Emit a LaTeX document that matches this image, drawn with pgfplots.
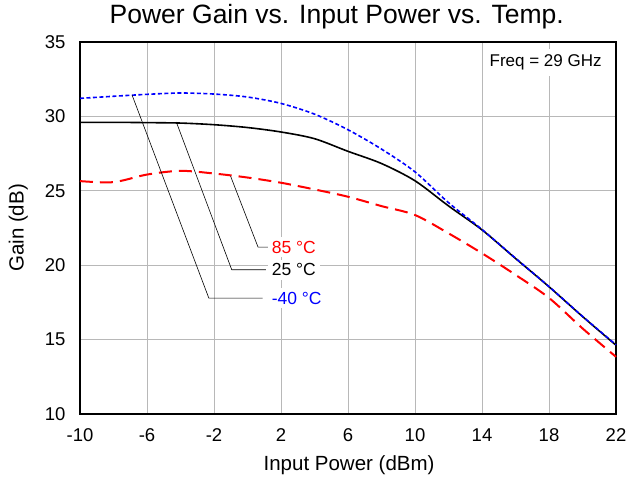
\documentclass[border=0pt]{standalone}
\usepackage{fontspec}
\setmainfont{Liberation Sans}
\usepackage{pgfplots}
\pgfplotsset{compat=1.18}
\begin{document}
\begin{tikzpicture}
\begin{axis}[
 scale only axis, width=536bp, height=372bp,
 xmin=-10, xmax=22, ymin=10, ymax=35,
 xtick={-10,-6,...,22}, ytick={10,15,...,35},
 xticklabels={-10,-6,-2,2,6,10,14,18,22},
 yticklabels={10,15,20,25,30,35},
 major tick length=0pt,
 grid=major, grid style={line width=0.8bp, color=black!28},
 axis line style={line width=1.2bp, black},
 tick label style={font=\fontsize{18.5bp}{20bp}\selectfont},
 xticklabel style={yshift=-11bp},
 yticklabel style={xshift=-11bp},
 title={Power Gain vs. Input Power vs. Temp.},
 title style={font=\fontsize{26.5bp}{28bp}\selectfont, at={(rel axis cs:0.479,1)}, anchor=base, yshift=12bp},
 xlabel={Input Power (dBm)},
 xlabel style={font=\fontsize{20.5bp}{22bp}\selectfont, at={(axis description cs:0.502,-0.151)}, anchor=base},
 ylabel={Gain (dB)},
 ylabel style={font=\fontsize{20.5bp}{22bp}\selectfont, at={(axis description cs:-0.105,0.5)}, anchor=base},
 clip=false,
]
% 25 C
\addplot[black, line width=1.6bp, smooth] coordinates {
 (-10,29.6) (-8,29.6) (-6,29.58) (-4,29.55) (-2,29.44) (0,29.25) (2,28.95)
 (4,28.5) (6,27.65) (8,26.83) (10,25.67) (12,23.98) (14,22.37) (16,20.45)
 (18,18.55) (20,16.55) (22,14.62)};
% 85 C
\addplot[red, line width=2bp, dash pattern=on 13bp off 7bp, smooth] coordinates {
 (-10,25.65) (-8,25.58) (-6,26.09) (-4,26.34) (-2,26.16) (0,25.89) (2,25.54)
 (4,25.09) (6,24.6) (8,23.97) (10,23.37) (12,22.14) (14,20.8) (16,19.35)
 (18,17.8) (20,15.75) (22,13.84)};
% -40 C
\addplot[blue, line width=1.6bp, dash pattern=on 4bp off 2.5bp, smooth] coordinates {
 (-10,31.21) (-8,31.35) (-6,31.48) (-4,31.57) (-2,31.5) (0,31.3) (2,30.87)
 (4,30.15) (6,29.1) (8,27.8) (10,26.27) (12,24.2) (14,22.4) (16,20.47)
 (18,18.56) (20,16.56) (22,14.65)};

\draw[black, line width=0.6bp] (axis cs:-6.89,31.43) -- (axis cs:-2.31,17.79) -- (axis cs:0.9,17.79);
\draw[black, line width=0.6bp] (axis cs:-4.25,29.62) -- (axis cs:-0.94,19.69) -- (axis cs:1.1,19.69);
\draw[black, line width=0.6bp] (axis cs:-1.01,25.98) -- (axis cs:0.63,21.21) -- (axis cs:1.3,21.21);

\node[anchor=west, fill=white, inner sep=4bp, text=red, font=\fontsize{17.5bp}{19bp}\selectfont] at (axis cs:1.2,21.21) {85 °C};
\node[anchor=west, fill=white, inner sep=4bp, text=black, font=\fontsize{17.5bp}{19bp}\selectfont] at (axis cs:1.2,19.69) {25 °C};
\node[anchor=west, fill=white, inner sep=4bp, text=blue, font=\fontsize{17.5bp}{19bp}\selectfont] at (axis cs:1.2,17.79) {-40 °C};

\node[anchor=east, fill=white, inner xsep=4bp, inner ysep=6bp, font=\fontsize{17bp}{19bp}\selectfont] at (axis cs:21.39,33.6) {Freq = 29 GHz};

\path (axis cs:-14.776,5.83) rectangle (axis cs:23.55,37.82);
\end{axis}
\end{tikzpicture}
\end{document}
